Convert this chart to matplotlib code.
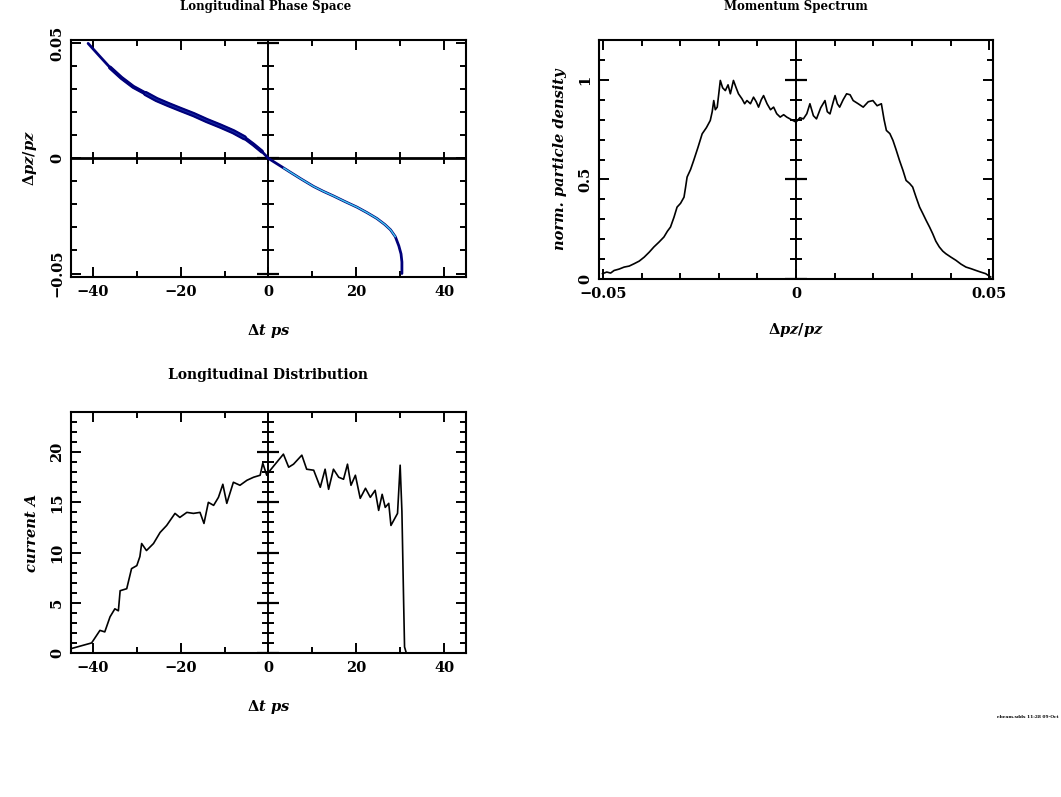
import numpy as np
import matplotlib
matplotlib.use("Agg")
import matplotlib.pyplot as plt
from matplotlib.ticker import MultipleLocator

plt.rcParams["mathtext.fontset"] = "custom"
plt.rcParams["mathtext.rm"] = "DejaVu Serif:bold"
plt.rcParams["mathtext.bf"] = "DejaVu Serif:bold"
plt.rcParams["mathtext.it"] = "DejaVu Serif:italic:bold"

# ---------------- data ----------------
# Phase space centre curve: dt [ps], dpz/pz
ps_t = [-41.1, -38.5, -36.1, -33.5, -30.8, -28.0, -25.5, -22.8, -20.2, -17.0, -14.1, -11.0,
        -8.0, -5.5, -3.4, -1.5, 0.0, 2.5, 4.9, 7.5, 10.3, 12.5, 14.8, 17.5, 20.2, 22.5,
        24.7, 26.5, 27.8, 28.9, 29.7, 30.2, 30.4, 30.4]
ps_d = [0.0500, 0.0445, 0.0395, 0.0350, 0.0311, 0.0282, 0.0256, 0.0234, 0.0214, 0.0190,
        0.0165, 0.0141, 0.0116, 0.0090, 0.0060, 0.0030, 0.0000, -0.0030, -0.0059, -0.0090,
        -0.0122, -0.0143, -0.0163, -0.0188, -0.0212, -0.0236, -0.0261, -0.0287, -0.0310,
        -0.0340, -0.0380, -0.0415, -0.0450, -0.0500]
# dense core segments
core_mid_t = [-36.1, -33.5, -30.8, -28.0, -25.5, -22.8, -20.2, -17.0, -14.1, -11.0, -8.0,
              -5.5, -3.4, -1.5]
core_mid_d = [0.0395, 0.0350, 0.0311, 0.0282, 0.0256, 0.0234, 0.0214, 0.0190, 0.0165,
              0.0141, 0.0116, 0.0090, 0.0060, 0.0030]
core_left_t = [-28.0, -25.5, -22.8, -20.2, -17.0, -14.1, -11.0, -8.0, -5.5]
core_left_d = [0.0282, 0.0256, 0.0234, 0.0214, 0.0190, 0.0165, 0.0141, 0.0116, 0.0090]
core_right_t = [3.5, 4.9, 7.5, 10.3, 12.5, 14.8, 17.5, 20.2, 22.5, 24.7, 26.5, 27.8, 28.9]
core_right_d = [-0.0042, -0.0059, -0.0090, -0.0122, -0.0143, -0.0163, -0.0188, -0.0212,
                -0.0236, -0.0261, -0.0287, -0.0310, -0.0340]

# Momentum spectrum: dpz/pz, normalised density
sp_x = [-0.0501, -0.0490, -0.0480, -0.0471, -0.0458, -0.0445, -0.0432, -0.0419, -0.0406,
        -0.0393, -0.0380, -0.0368, -0.0355, -0.0342, -0.0333, -0.0325, -0.0316, -0.0308,
        -0.0299, -0.0290, -0.0286, -0.0282, -0.0273, -0.0265, -0.0254, -0.0243, -0.0232,
        -0.0222, -0.0217, -0.0213, -0.0209, -0.0204, -0.0200, -0.0196, -0.0190, -0.0183,
        -0.0176, -0.0170, -0.0162, -0.0155, -0.0149, -0.0140, -0.0133, -0.0127, -0.0118,
        -0.0110, -0.0103, -0.0097, -0.0090, -0.0084, -0.0075, -0.0066, -0.0058, -0.0050,
        -0.0041, -0.0032, -0.0024, -0.0012, 0.0000, 0.0010, 0.0019, 0.0028, 0.0036, 0.0045,
        0.0053, 0.0064, 0.0075, 0.0081, 0.0088, 0.0095, 0.0101, 0.0107, 0.0113, 0.0122,
        0.0131, 0.0140, 0.0148, 0.0161, 0.0174, 0.0187, 0.0199, 0.0210, 0.0221, 0.0228,
        0.0234, 0.0243, 0.0251, 0.0259, 0.0268, 0.0277, 0.0285, 0.0294, 0.0302, 0.0311,
        0.0320, 0.0328, 0.0337, 0.0346, 0.0354, 0.0362, 0.0371, 0.0380, 0.0388, 0.0401,
        0.0414, 0.0427, 0.0440, 0.0453, 0.0466, 0.0478, 0.0491, 0.0504]
sp_y = [0.027, 0.035, 0.030, 0.043, 0.050, 0.060, 0.065, 0.077, 0.090, 0.110, 0.135, 0.161,
        0.185, 0.211, 0.240, 0.261, 0.310, 0.361, 0.380, 0.411, 0.460, 0.512, 0.550, 0.595,
        0.660, 0.729, 0.760, 0.796, 0.840, 0.896, 0.850, 0.863, 0.930, 0.997, 0.960, 0.946,
        0.975, 0.930, 0.997, 0.960, 0.930, 0.905, 0.880, 0.896, 0.880, 0.913, 0.890, 0.863,
        0.900, 0.921, 0.880, 0.850, 0.863, 0.830, 0.813, 0.825, 0.813, 0.800, 0.788, 0.810,
        0.804, 0.830, 0.880, 0.820, 0.804, 0.860, 0.896, 0.840, 0.829, 0.880, 0.921, 0.880,
        0.863, 0.900, 0.930, 0.925, 0.896, 0.880, 0.863, 0.890, 0.896, 0.870, 0.880, 0.800,
        0.746, 0.730, 0.696, 0.650, 0.595, 0.545, 0.495, 0.480, 0.462, 0.410, 0.361, 0.330,
        0.294, 0.260, 0.227, 0.190, 0.161, 0.140, 0.127, 0.110, 0.094, 0.075, 0.060, 0.052,
        0.043, 0.035, 0.027, 0.010]

# Longitudinal distribution: dt [ps], current [A]
cur_t = [-45.0, -40.3, -38.4, -37.3, -36.1, -35.0, -34.2, -33.8, -32.3, -31.2, -30.0, -29.3,
         -28.9, -27.8, -26.2, -24.7, -23.2, -21.3, -20.2, -18.6, -17.1, -15.6, -14.7, -13.7,
         -12.5, -11.4, -10.4, -9.5, -8.0, -6.5, -4.9, -3.4, -1.9, -1.3, -0.4, 0.4, 1.9, 3.4,
         4.6, 5.7, 7.6, 8.7, 10.3, 11.8, 12.9, 13.7, 14.8, 16.0, 17.1, 18.0, 18.8, 19.8,
         20.9, 22.1, 23.2, 24.3, 25.1, 25.9, 26.6, 27.4, 27.9, 28.9, 29.4, 30.0, 30.4, 30.8,
         31.0, 31.4]
cur_a = [0.43, 1.0, 2.25, 2.1, 3.6, 4.4, 4.2, 6.2, 6.4, 8.4, 8.7, 9.6, 10.9, 10.2, 10.9,
         12.0, 12.7, 13.9, 13.5, 14.0, 13.9, 14.0, 12.9, 15.0, 14.7, 15.5, 16.8, 14.9, 17.0,
         16.7, 17.2, 17.5, 17.7, 18.9, 17.7, 18.2, 19.0, 19.8, 18.5, 18.8, 19.7, 18.3, 18.2,
         16.5, 18.3, 16.3, 18.3, 17.5, 17.3, 18.8, 16.7, 17.7, 15.4, 16.4, 15.5, 16.2, 14.2,
         15.8, 14.5, 14.9, 12.7, 13.5, 13.9, 18.7, 14.1, 4.9, 0.6, 0.0]

titles = ["Longitudinal Phase Space", "Momentum Spectrum", "Longitudinal Distribution"]

# ---------------- figure ----------------
fig = plt.figure(figsize=(10.61, 7.97), dpi=100)
fig.patch.set_facecolor("white")

FONT = "DejaVu Serif"
tick_fs = 10.5
lab_fs = 10.5


def fix_labels(ax):
    for lab in ax.get_xticklabels():
        lab.set_fontfamily(FONT)
        lab.set_fontweight("bold")
    for lab in ax.get_yticklabels():
        lab.set_fontfamily(FONT)
        lab.set_fontweight("bold")
        lab.set_rotation(90)
        lab.set_va("center")


def style(ax, xmaj, xmin, ymaj, ymin):
    ax.xaxis.set_major_locator(MultipleLocator(xmaj))
    ax.xaxis.set_minor_locator(MultipleLocator(xmin))
    ax.yaxis.set_major_locator(MultipleLocator(ymaj))
    ax.yaxis.set_minor_locator(MultipleLocator(ymin))
    ax.tick_params(which="both", direction="in", top=True, right=True, width=1.4,
                   colors="black", labelsize=tick_fs)
    ax.tick_params(which="major", length=7)
    ax.tick_params(which="minor", length=4.5)
    ax.tick_params(axis="x", pad=6)
    ax.tick_params(axis="y", pad=5)
    for s in ax.spines.values():
        s.set_linewidth(1.5)
    fix_labels(ax)


def center_vline(ax, ymaj, ymin):
    ax.axvline(0, color="black", lw=1.4, zorder=1)
    lo, hi = ax.get_ylim()
    ys = np.arange(np.ceil(lo / ymin) * ymin, hi + 1e-12, ymin)
    ax.plot(np.zeros_like(ys), ys, ls="none", marker="_", ms=9, mew=1.4, color="black", zorder=1)
    ym = np.arange(np.ceil(lo / ymaj) * ymaj, hi + 1e-12, ymaj)
    ax.plot(np.zeros_like(ym), ym, ls="none", marker="_", ms=16, mew=1.6, color="black", zorder=1)


def center_hline(ax, xmaj, xmin):
    ax.axhline(0, color="black", lw=2.0, zorder=1)
    lo, hi = ax.get_xlim()
    xs = np.arange(np.ceil(lo / xmin) * xmin, hi + 1e-12, xmin)
    ax.plot(xs, np.zeros_like(xs), ls="none", marker="|", ms=9, mew=1.4, color="black", zorder=1)


XLAB_T = r"$\Delta\mathit{t\ ps}$"
XLAB_P = r"$\Delta\mathit{pz/pz}$"

# ---- top-left: phase space
ax1 = fig.add_axes([0.0669, 0.6525, 0.3723, 0.2974])
ax1.set_xlim(-45, 45)
ax1.set_ylim(-0.0515, 0.0515)
center_vline(ax1, 0.05, 0.01)
center_hline(ax1, 20, 10)
NAVY = "#00007a"
ax1.plot(ps_t, ps_d, color=NAVY, lw=2.0, zorder=3, solid_capstyle="round",
         solid_joinstyle="round")
ax1.plot(core_mid_t, core_mid_d, color=NAVY, lw=2.9, zorder=3, solid_capstyle="round",
         solid_joinstyle="round")
ax1.plot(core_left_t, core_left_d, color=NAVY, lw=3.8, zorder=3, solid_capstyle="round",
         solid_joinstyle="round")
ax1.plot(core_left_t, core_left_d, color="#1f3fbf", lw=0.8, zorder=4, alpha=0.6)
ax1.plot(core_right_t, core_right_d, color="#40c8f0", lw=1.0, zorder=4)
style(ax1, 20, 10, 0.05, 0.01)
ax1.set_yticks([-0.05, 0, 0.05])
ax1.set_yticklabels(["\u22120.05", "0", "0.05"])
fix_labels(ax1)
ax1.set_xlabel(XLAB_T, fontsize=lab_fs, labelpad=16)
ax1.set_ylabel(XLAB_P, fontsize=lab_fs, labelpad=8)

# ---- top-right: momentum spectrum
ax2 = fig.add_axes([0.5646, 0.6499, 0.3713, 0.2999])
ax2.set_xlim(-0.051, 0.051)
ax2.set_ylim(0, 1.2)
center_vline(ax2, 0.5, 0.1)
ax2.plot(sp_x, sp_y, color="black", lw=1.2, zorder=3)
style(ax2, 0.05, 0.01, 0.5, 0.1)
ax2.set_xticks([-0.05, 0, 0.05])
ax2.set_xticklabels(["\u22120.05", "0", "0.05"])
ax2.set_yticks([0, 0.5, 1])
ax2.set_yticklabels(["0", "0.5", "1"])
fix_labels(ax2)
ax2.set_xlabel(XLAB_P, fontsize=lab_fs, labelpad=14)
ax2.set_ylabel("norm. particle density", fontsize=lab_fs, fontfamily=FONT,
               fontstyle="italic", fontweight="bold", labelpad=8)

# ---- bottom-left: current
ax3 = fig.add_axes([0.0669, 0.1807, 0.3723, 0.3024])
ax3.set_xlim(-45, 45)
ax3.set_ylim(0, 24)
center_vline(ax3, 5, 1)
ax3.plot(cur_t, cur_a, color="black", lw=1.2, zorder=3)
style(ax3, 20, 10, 5, 1)
ax3.set_xlabel(XLAB_T, fontsize=lab_fs, labelpad=16)
ax3.set_ylabel("current A", fontsize=lab_fs, fontfamily=FONT,
               fontstyle="italic", fontweight="bold", labelpad=8)
ax3.set_title(titles[2], fontsize=10, fontfamily=FONT, fontweight="bold", pad=24)

# titles of the upper panels (at the very top edge, as in the reference)
fig.text(0.25, 0.9995, titles[0], fontsize=8.5, fontfamily=FONT, fontweight="bold",
         ha="center", va="top")
fig.text(0.75, 0.9995, titles[1], fontsize=8.5, fontfamily=FONT, fontweight="bold",
         ha="center", va="top")

# tiny stamp in the lower-right corner
fig.text(0.998, 0.1, "ebeam.sdds 11:28 09-Oct", fontsize=3.2, fontfamily=FONT,
         fontweight="bold", ha="right", va="center")

fig.savefig("out.png", dpi=100, facecolor="white")
